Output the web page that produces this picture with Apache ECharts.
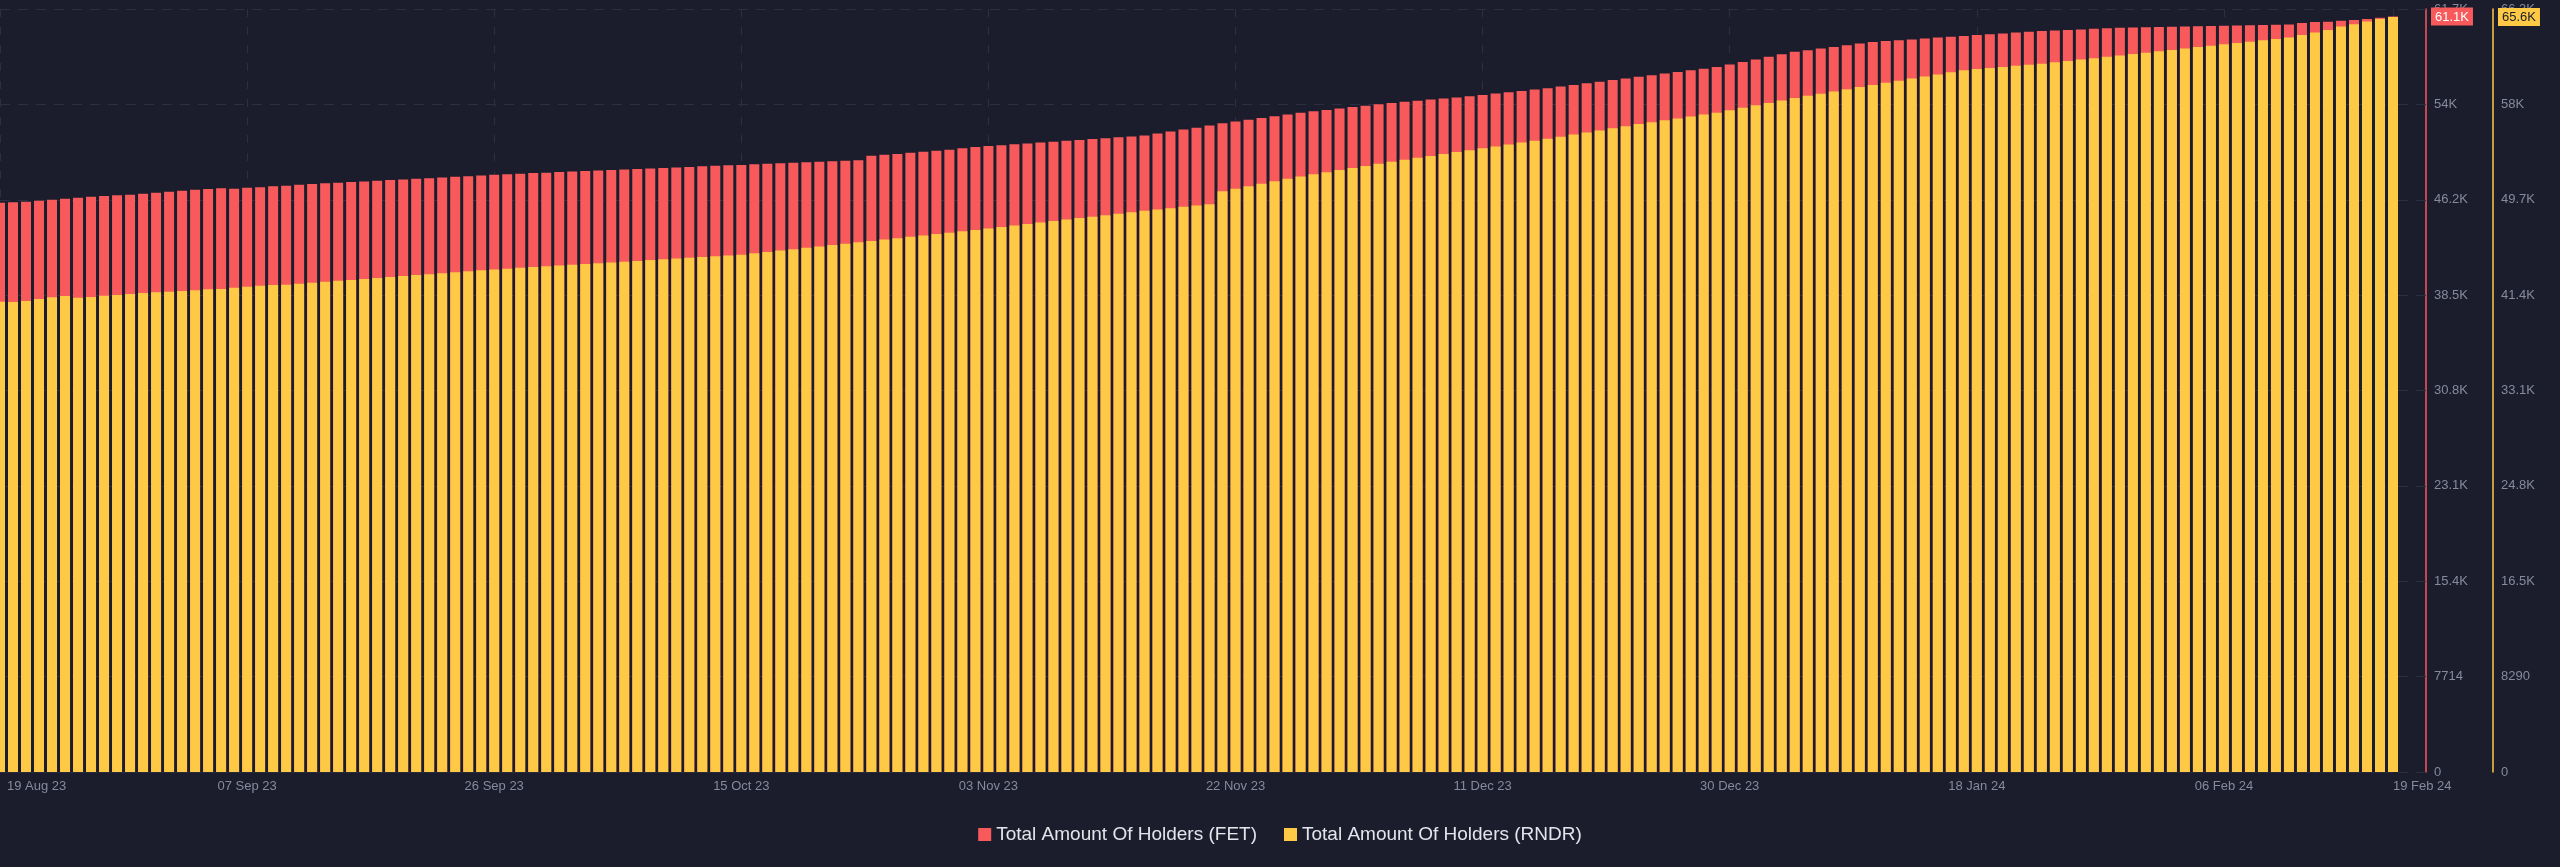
<!DOCTYPE html>
<html>
<head>
<meta charset="utf-8">
<script src="https://cdn.jsdelivr.net/npm/echarts@6/dist/echarts.min.js"></script>
<style>
html,body{margin:0;padding:0;background:#1b1d2c;}
#chart{width:2560px;height:867px;}
</style>
</head>
<body>
<div id="chart"></div>
<script>
// ---- data ----
const START_DATE = '2023-08-19';
const DAY_COUNT = 185;
const SERIES_NAMES = ['Total Amount Of Holders (FET)', 'Total Amount Of Holders (RNDR)'];
const FET_AXIS = { max: 61715, splits: 8 };
const RNDR_AXIS = { max: 66320, splits: 8 };

const fet = [
46048,46080,46129,46210,46290,46371,46452,46533,46590,46646,46695,46776,46857,46938,47019,47099,47156,47213,47180,47261,
47293,47374,47423,47504,47560,47612,47668,47715,47770,47821,47880,47925,47981,48030,48088,48140,48192,48250,48313,48350,
48395,48441,48480,48523,48566,48610,48648,48692,48733,48776,48815,48860,48902,48945,48986,49030,49068,49107,49150,49188,
49230,49271,49315,49352,49398,49440,49482,49840,49920,49995,50080,50160,50250,50340,50450,50553,50625,50697,50770,50840,
50912,50985,51055,51125,51198,51270,51340,51412,51483,51640,51800,51960,52120,52300,52480,52620,52760,52905,53045,53190,
53328,53440,53555,53668,53780,53893,54005,54120,54210,54298,54386,54476,54565,54654,54763,54872,54981,55090,55200,55310,
55442,55574,55705,55837,55969,56100,56232,56364,56496,56628,56760,56892,57024,57229,57434,57639,57844,58049,58254,58386,
58518,58650,58783,58915,59047,59118,59188,59258,59329,59400,59470,59540,59606,59672,59738,59805,59871,59937,59980,60023,
60066,60110,60153,60196,60215,60235,60254,60274,60294,60313,60333,60355,60376,60398,60419,60440,60462,60583,60664,60688,
60769,60826,60907,61012,61110
];

const rndr = [
40879,40852,40939,41113,41261,41374,41226,41287,41400,41461,41548,41635,41696,41748,41809,41870,41957,41983,42096,42183,
42270,42330,42357,42443,42525,42610,42692,42775,42858,42940,43025,43106,43190,43272,43355,43438,43520,43603,43686,43753,
43820,43888,43955,44022,44090,44157,44224,44291,44358,44426,44493,44560,44627,44694,44762,44829,44896,44963,45082,45202,
45321,45440,45560,45679,45798,45918,46037,46157,46276,46395,46515,46634,46753,46873,46992,47112,47241,47370,47499,47628,
47757,47886,48015,48144,48273,48402,48531,48660,48789,48900,49012,49125,49238,49350,50480,50700,50920,51130,51350,51560,
51770,51953,52135,52318,52500,52683,52865,53048,53215,53381,53548,53714,53881,54047,54212,54377,54542,54708,54873,55038,
55221,55403,55586,55768,55951,56133,56316,56481,56646,56811,56977,57142,57307,57520,57733,57946,58159,58372,58585,58775,
58964,59154,59344,59533,59723,59905,60088,60270,60453,60635,60818,61000,61094,61189,61283,61377,61472,61566,61685,61803,
61922,62041,62159,62278,62400,62522,62644,62765,62887,63009,63131,63248,63365,63483,63600,63717,63835,64067,64267,64502,
64789,64997,65223,65449,65620
];

// ---- categories ----
const MONTHS = ['Jan','Feb','Mar','Apr','May','Jun','Jul','Aug','Sep','Oct','Nov','Dec'];
const categories = [];
(function(){
  const d0 = new Date(START_DATE + 'T00:00:00Z');
  for (let i = 0; i < DAY_COUNT; i++) {
    const d = new Date(d0.getTime() + i * 86400000);
    const dd = String(d.getUTCDate()).padStart(2, '0');
    const yy = String(d.getUTCFullYear()).slice(2);
    categories.push(dd + ' ' + MONTHS[d.getUTCMonth()] + ' ' + yy);
  }
})();
const LABEL_STEP = 19;

// ---- styles ----
const RED = '#f85a5b';
const YELLOW = '#fec944';
const BG = '#1b1d2c';
const GRID_LINE = '#2c2f41';
const AXIS_TEXT = '#868a9c';
const FONT = '"Liberation Sans", Arial, Helvetica, sans-serif';

function fmtAxis(v) {
  if (v === 0) return '0';
  if (v < 10000) return String(Math.round(v));
  const k = Math.floor(v / 100 + 1e-6) / 10;
  return (k % 1 === 0 ? k.toFixed(0) : k.toFixed(1)) + 'K';
}
function fmtBadge(v) {
  return (v / 1000).toFixed(1) + 'K';
}
const lastIdx = categories.length - 1;
function showLabel(i) { return i % LABEL_STEP === 0 || i === lastIdx; }

const chart = echarts.init(document.getElementById('chart'), null, { renderer: 'canvas' });

chart.setOption({
  backgroundColor: BG,
  animation: false,
  textStyle: { fontFamily: FONT },
  grid: { left: 0, right: 167, top: 9, bottom: 95, containLabel: false },
  legend: {
    bottom: 18,
    left: 'center',
    icon: 'rect',
    itemWidth: 13,
    itemHeight: 13,
    itemGap: 27,
    textStyle: { color: '#e4e5ec', fontSize: 19, fontFamily: FONT },
    data: SERIES_NAMES
  },
  xAxis: {
    type: 'category',
    data: categories,
    boundaryGap: false,
    axisLine: { show: true, lineStyle: { color: '#262939' } },
    axisTick: { show: false },
    axisLabel: {
      color: AXIS_TEXT,
      fontSize: 13,
      fontFamily: FONT,
      margin: 8,
      hideOverlap: false,
      alignMaxLabel: 'left',
      alignMinLabel: 'left',
      interval: function (i) { return showLabel(i); },
      formatter: function (v, i) { return i === 0 ? '{p|' + v + '}' : v; },
      rich: { p: { padding: [0, 0, 0, 7], color: AXIS_TEXT, fontSize: 13, fontFamily: FONT } }
    },
    splitLine: {
      show: true,
      interval: function (i) { return showLabel(i); },
      lineStyle: { color: GRID_LINE, type: [8, 10], width: 1 }
    }
  },
  yAxis: [
    {
      type: 'value',
      position: 'right',
      offset: 33,
      min: 0,
      max: FET_AXIS.max,
      interval: FET_AXIS.max / FET_AXIS.splits,
      axisLine: { show: true, lineStyle: { color: RED, width: 1.5 } },
      axisTick: { show: true, inside: true, length: 33, lineStyle: { color: GRID_LINE, type: [10, 8] } },
      axisLabel: { color: AXIS_TEXT, fontSize: 13, fontFamily: FONT, margin: 8, formatter: fmtAxis },
      splitLine: { show: true, lineStyle: { color: GRID_LINE, type: [10, 8], width: 1 } },
      axisPointer: {
        show: true,
        type: 'line',
        status: 'show',
        value: fet[lastIdx],
        snap: false,
        triggerTooltip: false,
        lineStyle: { opacity: 0 },
        label: {
          show: true,
          margin: 5,
          backgroundColor: RED,
          color: '#ffffff',
          fontSize: 13,
          fontFamily: FONT,
          padding: [3, 4, 2, 4],
          borderRadius: 0,
          formatter: function (p) { return fmtBadge(p.value); }
        }
      }
    },
    {
      type: 'value',
      position: 'right',
      offset: 100,
      min: 0,
      max: RNDR_AXIS.max,
      interval: RNDR_AXIS.max / RNDR_AXIS.splits,
      axisLine: { show: true, lineStyle: { color: YELLOW, width: 1.5 } },
      axisTick: { show: false },
      axisLabel: { color: AXIS_TEXT, fontSize: 13, fontFamily: FONT, margin: 8, formatter: fmtAxis },
      splitLine: { show: false },
      axisPointer: {
        show: true,
        type: 'line',
        status: 'show',
        value: rndr[lastIdx],
        snap: false,
        triggerTooltip: false,
        lineStyle: { opacity: 0 },
        label: {
          show: true,
          margin: 5,
          backgroundColor: YELLOW,
          color: '#1b1d2c',
          fontSize: 13,
          fontFamily: FONT,
          padding: [3, 4, 2, 4],
          borderRadius: 0,
          formatter: function (p) { return fmtBadge(p.value); }
        }
      }
    }
  ],
  series: [
    {
      name: SERIES_NAMES[0],
      type: 'bar',
      yAxisIndex: 0,
      data: fet,
      barWidth: 10,
      barGap: '-100%',
      itemStyle: { color: RED },
      clip: true
    },
    {
      name: SERIES_NAMES[1],
      type: 'bar',
      yAxisIndex: 1,
      data: rndr,
      barWidth: 10,
      barGap: '-100%',
      itemStyle: { color: YELLOW },
      clip: true
    }
  ]
});
</script>
</body>
</html>
